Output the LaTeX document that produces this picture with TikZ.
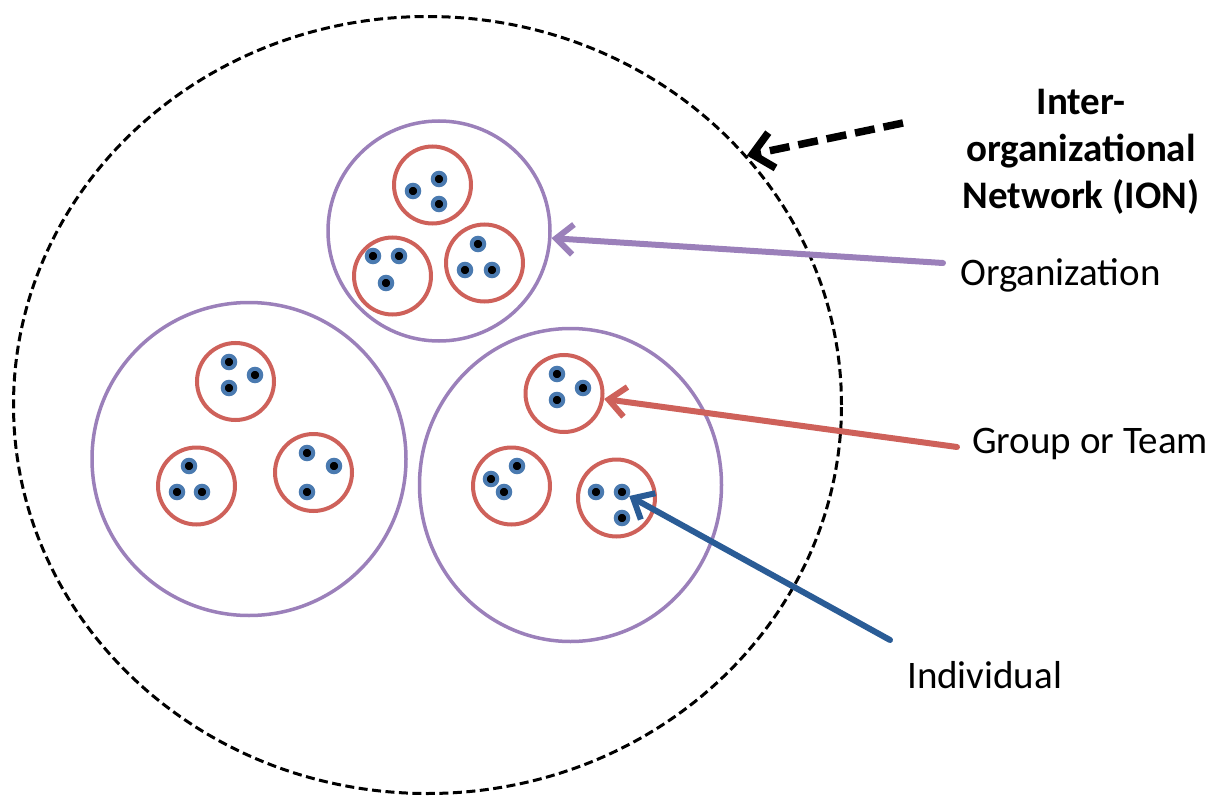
\documentclass[tikz,border=0pt]{standalone}
\usepackage{fontspec}
\setmainfont{Carlito}
\usetikzlibrary{arrows.meta,shapes.geometric,positioning}
\definecolor{orgpurple}{RGB}{155,128,186}
\definecolor{grpred}{RGB}{206,97,90}
\definecolor{indblue}{RGB}{42,92,150}
\definecolor{dotblue}{RGB}{74,122,176}

\begin{document}
\begin{tikzpicture}[x=1pt,y=-1pt,
   ion/.style={ellipse,draw,dash pattern=on 9pt off 4.5pt,line width=3pt,inner sep=0pt,
               minimum width=828pt,minimum height=777pt},
   org/.style={ellipse,draw=orgpurple,line width=3.5pt,inner sep=0pt},
   grp/.style={circle,draw=grpred,line width=4pt,minimum size=77pt,inner sep=0pt},
   ind/.style={circle,fill=black,draw=dotblue,line width=4pt,minimum size=12.5pt,inner sep=0pt},
   lbl/.style={font=\fontsize{39}{46}\selectfont,anchor=base west,inner sep=0pt},
   tip/.style={-{Straight Barb[length=17pt,width=30pt]},line width=6pt,line cap=round,line join=round}]
   \useasboundingbox (0,0) rectangle (1221,797);

   \node[ion] (ion) at (427.5,405) {};
   \node[org,minimum width=222pt,minimum height=220pt] (orgA) at (439,231) {};
   \node[org,minimum width=314pt,minimum height=313pt] (orgB) at (249,459) {};
   \node[org,minimum width=302pt,minimum height=313pt] (orgC) at (570.5,485) {};

   % groups
   \node[grp] (gA1) at (432.5,185) {};
   \node[grp] (gA2) at (392.5,276) {};
   \node[grp] (gA3) at (484.5,263) {};
   \node[grp] (gB1) at (235.5,381.5) {};
   \node[grp] (gB2) at (196.5,486) {};
   \node[grp] (gB3) at (313.5,472.5) {};
   \node[grp] (gC1) at (564,393.5) {};
   \node[grp] (gC2) at (511.5,486) {};
   \node[grp] (gC3) at (616.5,498) {};

   % individuals
   \node[ind] (iA1a) at (413,191) {}; \node[ind] (iA1b) at (439,179) {}; \node[ind] (iA1c) at (439,204) {};
   \node[ind] (iA2a) at (373,256) {}; \node[ind] (iA2b) at (399,256) {}; \node[ind] (iA2c) at (386,283) {};
   \node[ind] (iA3a) at (478,244) {}; \node[ind] (iA3b) at (465,270) {}; \node[ind] (iA3c) at (492,270) {};
   \node[ind] (iB1a) at (229,362) {}; \node[ind] (iB1b) at (255,375) {}; \node[ind] (iB1c) at (229,388) {};
   \node[ind] (iB2a) at (189,466) {}; \node[ind] (iB2b) at (177,492) {}; \node[ind] (iB2c) at (202,492) {};
   \node[ind] (iB3a) at (307,453) {}; \node[ind] (iB3b) at (334,466) {}; \node[ind] (iB3c) at (307,492) {};
   \node[ind] (iC1a) at (557,374) {}; \node[ind] (iC1b) at (583,388) {}; \node[ind] (iC1c) at (557,400) {};
   \node[ind] (iC2a) at (517,466) {}; \node[ind] (iC2b) at (491,479) {}; \node[ind] (iC2c) at (504,492) {};
   \node[ind] (iC3a) at (596,492) {}; \node[ind] (iC3b) at (622,492) {}; \node[ind] (iC3c) at (622,518) {};

   \node[lbl,font=\fontsize{39}{47}\selectfont\bfseries,anchor=base,align=center] (lblion) at (1081,208)
        {Inter-\\organizational\\Network (ION)};
   \node[lbl] (lblorg) at (960,285) {Organization};
   \node[lbl] (lblgrp) at (972,453) {Group or Team};
   \node[lbl] (lblind) at (907,688) {Individual};

   \coordinate (tion) at (903,123);
   \coordinate (torg) at (943,263);
   \coordinate (tgrp) at (957,447);
   \coordinate (tind) at (890,640);

   \path (torg) edge[tip,orgpurple] (orgA)
         (tgrp) edge[tip,grpred] (gC1)
         (tind) edge[tip,indblue] (iC3b)
         (tion) edge[tip,line width=7.5pt,line cap=butt,dash pattern=on 20pt off 9pt,
                     -{Straight Barb[length=20pt,width=36pt]}] (ion.38);
\end{tikzpicture}
\end{document}
